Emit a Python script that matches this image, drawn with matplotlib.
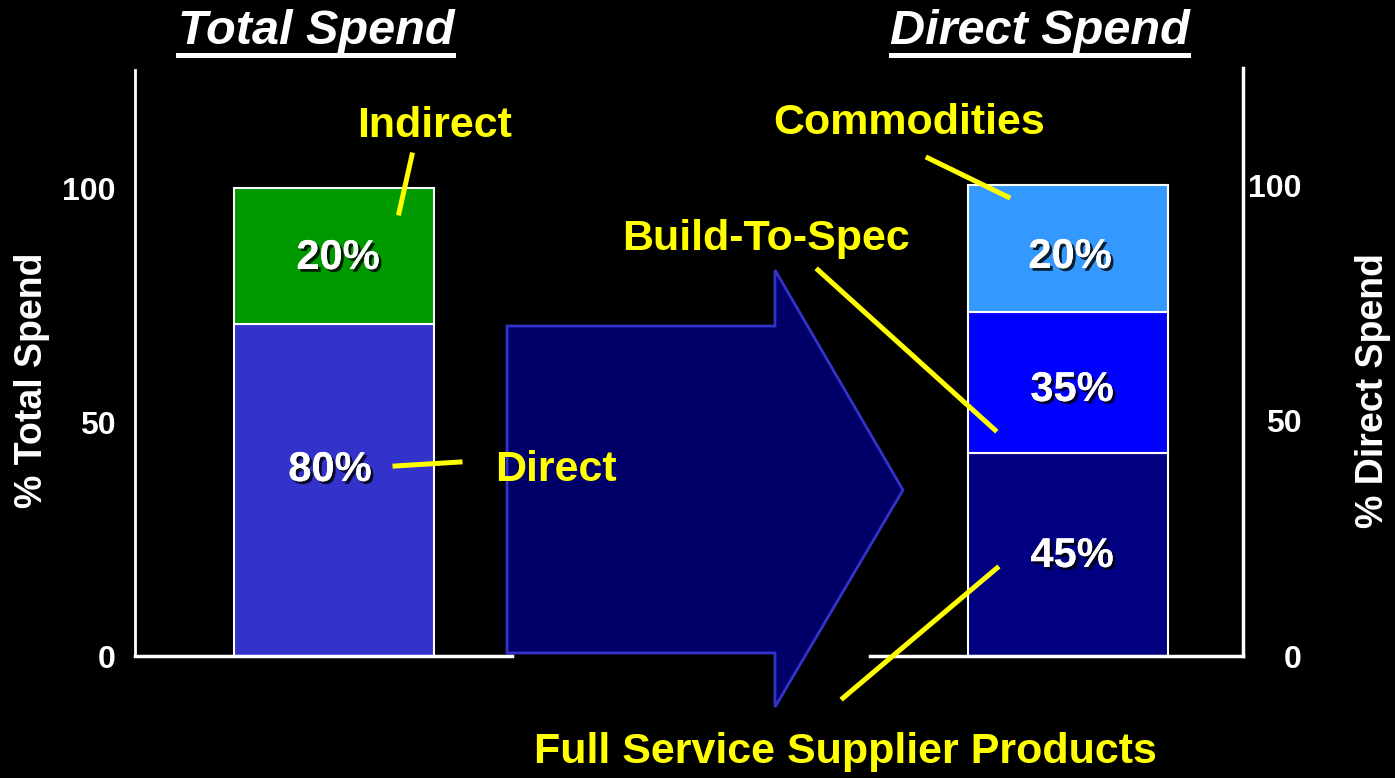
import matplotlib.pyplot as plt
import matplotlib.patheffects as pe
from matplotlib.patches import Polygon
from matplotlib.lines import Line2D

plt.rcParams['font.family'] = ['Liberation Sans', 'DejaVu Sans']
plt.rcParams['font.weight'] = 'bold'

# Data (heights as drawn, labels as printed)
total_segments = ["Direct", "Indirect"]
total_values = [71, 29]
total_labels = ["80%", "20%"]
total_colors = ["#3333CC", "#009900"]

direct_segments = ["Full Service Supplier Products", "Build-To-Spec", "Commodities"]
direct_values = [43, 30, 27]
direct_labels = ["45%", "35%", "20%"]
direct_colors = ["#000080", "#0000FF", "#3399FF"]

yticks = [0, 50, 100]

W, H = 1395, 778


def px(x, y):
    # pixel position -> figure fraction
    return x / W, 1 - y / H


fig = plt.figure(figsize=(W / 100, H / 100), dpi=100, facecolor="black")

shadow = [pe.withSimplePatchShadow(offset=(2, -2), shadow_rgbFace="black", alpha=0.8), pe.Normal()]

# Arrow between the two bars (drawn first so axes sit on top)
arrow_pts = [(507, 326), (775, 326), (775, 270), (903, 490), (775, 707), (775, 653), (507, 653)]
arrow = Polygon([px(x, y) for x, y in arrow_pts], closed=True, transform=fig.transFigure,
                facecolor="#000068", edgecolor="#3333CC", linewidth=2, zorder=0)
fig.add_artist(arrow)

# Left axes: total spend
ax1 = fig.add_axes([135 / W, 122 / H, 377 / W, 586 / H])
ax1.set_facecolor("none")
ax1.set_xlim(0, 1)
ax1.set_ylim(0, 586 / 4.68)
bottom = 0
for v, c in zip(total_values, total_colors):
    ax1.bar(0.528, v, width=0.53, bottom=bottom, color=c, edgecolor="white", linewidth=1.5)
    bottom += v
for s in ["top", "right"]:
    ax1.spines[s].set_visible(False)
ax1.spines["left"].set_color("white")
ax1.spines["left"].set_linewidth(2)
ax1.spines["bottom"].set_color("white")
ax1.spines["bottom"].set_linewidth(2.5)
ax1.set_xticks([])
ax1.set_yticks(yticks)
ax1.tick_params(axis="y", length=0, pad=14, labelcolor="white", labelsize=23)
ax1.set_ylabel("% Total Spend", color="white", fontsize=27, fontweight="bold")
ax1.yaxis.set_label_coords(-0.226, 0.471)

# Right axes: direct spend
ax2 = fig.add_axes([870 / W, 122 / H, 373 / W, 588 / H])
ax2.set_facecolor("none")
ax2.set_xlim(0, 1)
ax2.set_ylim(0, 588 / 4.71)
bottom = 0
for v, c in zip(direct_values, direct_colors):
    ax2.bar(0.531, v, width=0.536, bottom=bottom, color=c, edgecolor="white", linewidth=1.5)
    bottom += v
for s in ["top", "left"]:
    ax2.spines[s].set_visible(False)
ax2.spines["right"].set_color("white")
ax2.spines["right"].set_linewidth(2.5)
ax2.spines["bottom"].set_color("white")
ax2.spines["bottom"].set_linewidth(2.5)
ax2.set_xticks([])
ax2.yaxis.tick_right()
ax2.yaxis.set_label_position("right")
ax2.set_yticks(yticks)
ax2.tick_params(axis="y", length=0, pad=42, labelcolor="white", labelsize=23)
for t in ax2.get_yticklabels():
    t.set_horizontalalignment("right")
ax2.set_ylabel("% Direct Spend", color="white", fontsize=27, fontweight="bold", rotation=90)
ax2.yaxis.set_label_coords(1.30, 0.452)

# Titles with underline
for label, cx, x0, x1 in [("Total Spend", 316, 178, 453), ("Direct Spend", 1040, 891, 1188)]:
    fig.text(*px(cx, 32), label, color="white", fontsize=35, fontweight="bold",
             fontstyle="italic", ha="center", va="center")
    fig.add_artist(Line2D([x0 / W, x1 / W], [1 - 54.5 / H] * 2, color="white", linewidth=3.6))

# Percent labels inside the bars
pct_pos = [(330, 470), (338, 258)]
for lab, (x, y) in zip(total_labels, pct_pos):
    fig.text(*px(x, y), lab, color="white", fontsize=30, ha="center", va="center",
             path_effects=shadow, zorder=5)
pct_pos = [(1072, 556), (1072, 390), (1070, 257)]
for lab, (x, y) in zip(direct_labels, pct_pos):
    fig.text(*px(x, y), lab, color="white", fontsize=30, ha="center", va="center",
             path_effects=shadow, zorder=5)

# Yellow callouts
yellow = "#FFFF00"
callouts = [
    ("Indirect", (435, 126), "center", [(399, 213), (412, 155)]),
    ("Direct", (495, 470), "left", [(395, 466), (460, 462)]),
    ("Commodities", (909, 123), "center", [(928, 158), (1008, 197)]),
    ("Build-To-Spec", (766, 239), "center", [(818, 270), (995, 430)]),
    ("Full Service Supplier Products", (845, 752), "center", [(843, 698), (997, 568)]),
]
for text, (tx, ty), ha, line in callouts:
    fig.text(*px(tx, ty), text, color=yellow, fontsize=31, ha=ha, va="center", zorder=6)
    (xa, ya), (xb, yb) = line
    fig.add_artist(Line2D([xa / W, xb / W], [1 - ya / H, 1 - yb / H], color=yellow,
                          linewidth=3.6, zorder=6))

fig.savefig("out.png", dpi=100, facecolor="black")
